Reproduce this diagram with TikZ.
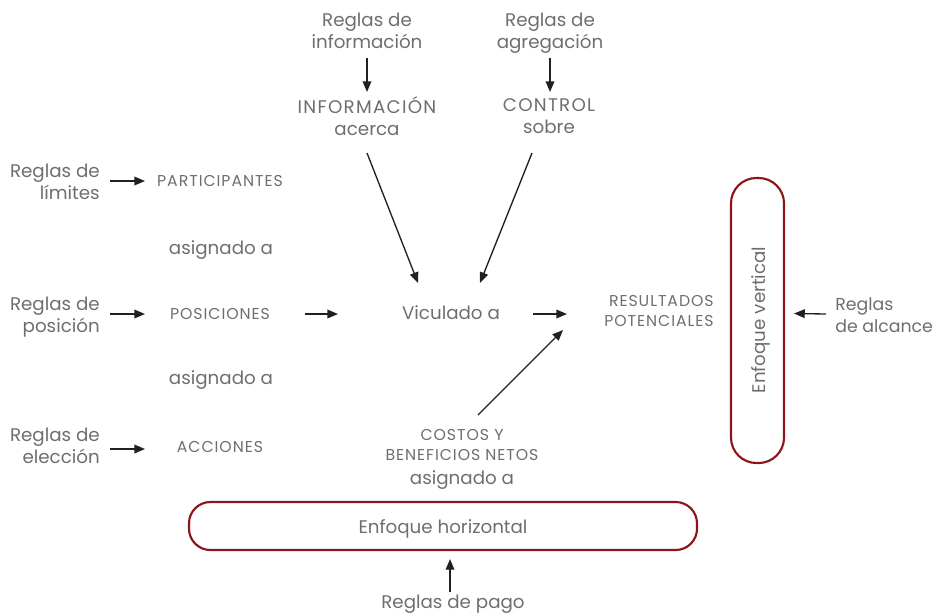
\documentclass[tikz,border=0pt]{standalone}
\usepackage{fontspec}
\setmainfont{Poppins}
\newfontfamily\capsfont[LetterSpace=6]{Poppins}
\newfontfamily\capsbigfont[LetterSpace=7]{Poppins}
\usetikzlibrary{arrows.meta,calc}
\definecolor{txtgray}{RGB}{109,110,113}
\definecolor{arrowdark}{RGB}{35,31,32}
\definecolor{boxred}{RGB}{139,21,24}
\begin{document}
\begin{tikzpicture}[x=0.75pt,y=-0.75pt,
  every node/.style={inner sep=0pt,text=txtgray},
  lbl/.style={font=\fontsize{13.7}{16.5}\selectfont,align=center},
  caps/.style={font=\capsfont\fontsize{11.8}{15}\selectfont,align=center},
  arr/.style={draw=arrowdark,line width=1pt,-{Triangle[length=8pt,width=6.5pt]}},
  focus/.style={draw=boxred,line width=1.6pt}]
\useasboundingbox (0,0) rectangle (937,615);

% top rule sources and their targets
\node[lbl] (rinfo) at (367,31) {Reglas de\\información};
\node[lbl] (info) at (367,116) {{\capsbigfont INFORMACIÓN}\\acerca};
\node[lbl] (ragr) at (550,33) {Reglas de\\agregación};
\node[lbl] (ctrl) at (549,116) {{\capsbigfont CONTROL}\\sobre};

% left column
\node[lbl,anchor=east,align=right] (rlim) at (100,182) {Reglas de\\límites};
\node[caps] (part) at (220,181) {PARTICIPANTES};
\node[lbl] (asig1) at (221,250) {asignado a};
\node[lbl,anchor=east,align=right] (rpos) at (100,317) {Reglas de\\posición};
\node[caps] (posi) at (220,314) {POSICIONES};
\node[lbl] (asig2) at (221,380) {asignado a};
\node[lbl,anchor=east,align=right] (relec) at (100,446) {Reglas de\\elección};
\node[caps] (acci) at (220,447) {ACCIONES};

% centre
\node[lbl] (vinc) at (451,313) {Viculado a};
\node[caps,align=right] (res) at (659,311) {RESULTADOS\\POTENCIALES};
\node[caps] (cost) at (462,445) {COSTOS Y\\BENEFICIOS NETOS};
\node[lbl] (asig3) at (462,480) {asignado a};

% vertical focus box
\node[focus,rounded corners=19pt,minimum width=39.75pt,minimum height=213.75pt] (vbox) at (757.5,320.5) {};
\node[lbl,rotate=90] (vtxt) at (761,320) {Enfoque vertical};
\node[lbl,font=\fontsize{13}{16.5}\selectfont,anchor=west,align=left] (ralc) at (835,315) {Reglas\\de alcance};

% horizontal focus box
\node[focus,rounded corners=16pt,minimum width=381pt,minimum height=36pt] (hbox) at (443,526) {};
\node[lbl] (htxt) at (443,529) {Enfoque horizontal};
\node[lbl] (rpago) at (453,604) {Reglas de pago};

% connectors
\draw[arr] ($(rinfo)+(0,27)$) -- ($(info)+(0,-24)$);
\draw[arr] ($(ragr)+(0,25)$) -- ($(ctrl)+(1,-24)$);
\draw[arr] ($(info)+(0,37)$) -- ($(vinc)+(-33,-30)$);
\draw[arr] ($(ctrl)+(-17,37)$) -- ($(vinc)+(29,-30)$);

\draw[arr] ($(rlim.east)+(10,-1)$) -- ($(part)+(-75,0)$);
\draw[arr] ($(rpos.east)+(10,-3)$) -- ($(posi)+(-75,0)$);
\draw[arr] ($(relec.east)+(10,3)$) -- ($(acci)+(-75,2)$);

\draw[arr] ($(posi)+(85,0)$) -- ($(vinc)+(-113,1)$);
\draw[arr] ($(vinc)+(82,1)$) -- ($(res)+(-92,3)$);
\draw[arr] ($(cost)+(16,-30)$) -- ($(res)+(-96,19)$);

\draw[arr] ($(ralc.west)+(-9,-1)$) -- ($(vbox.east)+(9,-7)$);
\draw[arr] ($(rpago)+(-3,-12)$) -- ($(hbox.south)+(7,8)$);
\end{tikzpicture}
\end{document}
